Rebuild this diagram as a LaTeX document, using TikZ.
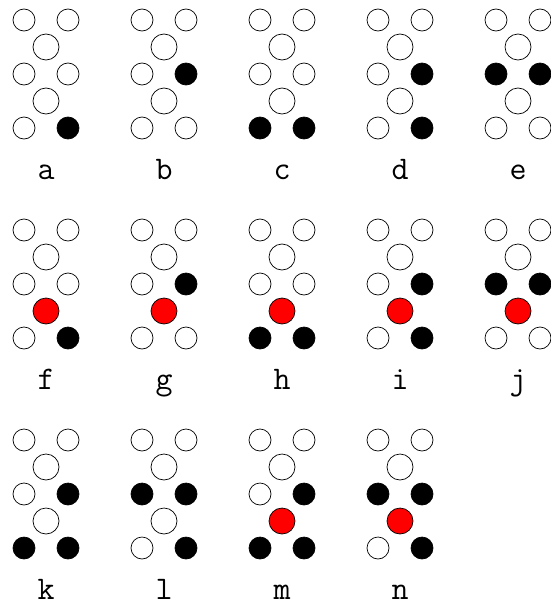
\documentclass[tikz,border=0pt]{standalone}
\usetikzlibrary{calc}

\begin{document}
\begin{tikzpicture}[
    x=1pt, y=-1pt,
    dot/.style={draw, circle, line width=0.7pt, inner sep=0pt, minimum size=22pt},
    big/.style={dot, minimum size=26pt},
    f0/.style={fill=white},
    f1/.style={fill=black},
    f2/.style={fill=red},
    lbl/.style={font=\ttfamily\fontsize{33}{36}\selectfont, anchor=base, inner sep=0pt}
]
\useasboundingbox (0,0) rectangle (551,605);

% letter / column / row / fills (tl,tr,up,ml,mr,lo,bl,br)
\foreach \ch/\col/\row/\pat in {
    a/0/0/{0,0,0,0,0,0,0,1}, b/1/0/{0,0,0,0,1,0,0,0},
    c/2/0/{0,0,0,0,0,0,1,1}, d/3/0/{0,0,0,0,1,0,0,1},
    e/4/0/{0,0,0,1,1,0,0,0}, f/0/1/{0,0,0,0,0,2,0,1},
    g/1/1/{0,0,0,0,1,2,0,0}, h/2/1/{0,0,0,0,0,2,1,1},
    i/3/1/{0,0,0,0,1,2,0,1}, j/4/1/{0,0,0,1,1,2,0,0},
    k/0/2/{0,0,0,0,1,0,1,1}, l/1/2/{0,0,0,1,1,0,0,1},
    m/2/2/{0,0,0,0,1,2,1,1}, n/3/2/{0,0,0,1,1,2,0,1}}{
  \coordinate (\ch) at (46+118*\col, 210*\row);
  \foreach \dx/\dy/\sty/\pos [count=\k from 0] in {
      -22/20/dot/tl, 22/20/dot/tr, 0/47/big/up,
      -22/74/dot/ml, 22/74/dot/mr, 0/101/big/lo,
      -22/128/dot/bl, 22/128/dot/br}{
    \pgfmathtruncatemacro\fl{{\pat}[\k]}
    \node[\sty, f\fl] (\ch-\pos) at ($(\ch)+(\dx,\dy)$) {};
  }
  \node[lbl] (\ch-lbl) at ($(\ch)+(0,179)$) {\ch};
}
\end{tikzpicture}
\end{document}
